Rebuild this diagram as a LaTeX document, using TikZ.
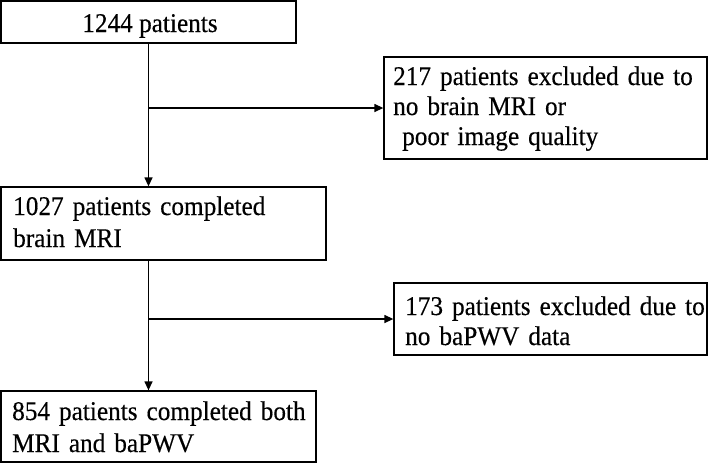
\documentclass[tikz,border=0pt]{standalone}
\usepackage{fontspec}
\setmainfont[FakeStretch=0.935,FakeBold=0.35]{Liberation Serif}
\usetikzlibrary{arrows.meta}
\tikzset{
  box/.style={draw=black, line width=1.3pt, rectangle, inner sep=0pt},
  lbl/.style={inner sep=0pt, anchor=base west, align=left, text width=320pt},
  arr/.style={line width=1.3pt, -{Triangle[length=9pt,width=8pt]}},
}
\begin{document}
\begin{tikzpicture}[x=1pt,y=-1pt]
\useasboundingbox (0,0) rectangle (709,464);
% boxes
\node[box, minimum width=295pt, minimum height=42pt] (b1) at (148.5,22) {};
\node[box, minimum width=323pt, minimum height=102pt] (b2) at (545.5,108) {};
\node[box, minimum width=325pt, minimum height=73pt] (b3) at (163.5,223.5) {};
\node[box, minimum width=313pt, minimum height=72pt] (b4) at (550.5,319) {};
\node[box, minimum width=315pt, minimum height=71pt] (b5) at (158.5,426.5) {};
% texts
\node[inner sep=0pt, anchor=base, font=\fontsize{27}{30}\selectfont] (t1) at (150,32) {1244 patients};
\node[lbl, font=\fontsize{27}{30}\selectfont] (t2) at (393,85) {217 patients excluded due to\\no brain MRI or\\\ poor image quality};
\node[lbl, font=\fontsize{27}{32}\selectfont] (t3) at (13,215) {1027 patients completed\\brain MRI};
\node[lbl, font=\fontsize{27}{30}\selectfont] (t4) at (405,315) {173 patients excluded due to\\no baPWV data};
\node[lbl, font=\fontsize{27}{32}\selectfont] (t5) at (12,420) {854 patients completed both\\MRI and baPWV};
% connectors
\coordinate (j1) at (b1.south |- b2.west);
\coordinate (j2) at (b1.south |- b4.west);
\draw[arr] (b1.south) -- (b1.south |- b3.north);
\draw[arr] (j1) -- (b2.west);
\draw[arr] (b1.south |- b3.south) -- (b1.south |- b5.north);
\draw[arr] (j2) -- (b4.west);
\end{tikzpicture}
\end{document}
